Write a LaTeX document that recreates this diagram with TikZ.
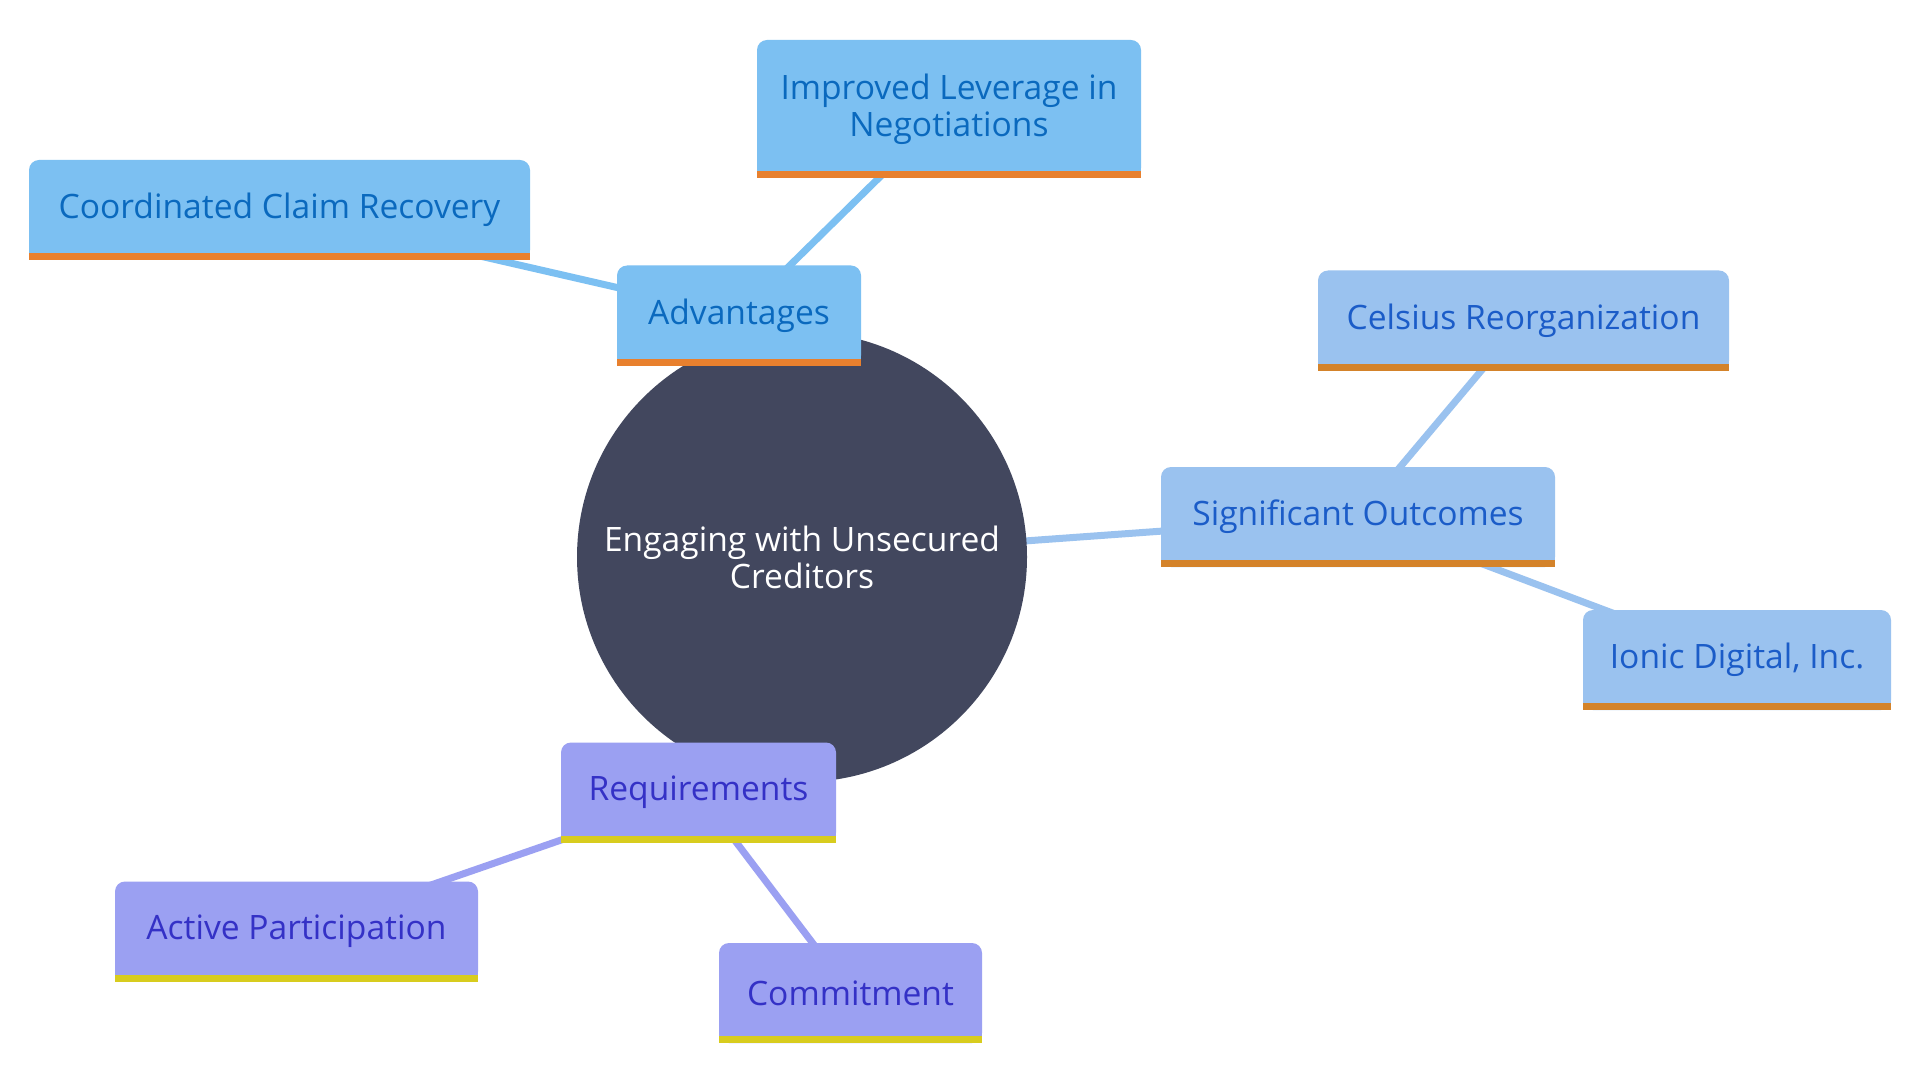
\documentclass[tikz,border=0pt]{standalone}
\usepackage{fontspec}
\setmainfont{Open Sans}
\usetikzlibrary{backgrounds}
\definecolor{hubfill}{HTML}{42475E}
\definecolor{advfill}{HTML}{7CC0F2}
\definecolor{advtext}{HTML}{0A69BE}
\definecolor{advstripe}{HTML}{E8802E}
\definecolor{sigfill}{HTML}{9AC2EF}
\definecolor{sigtext}{HTML}{1B5CC8}
\definecolor{sigstripe}{HTML}{D4832A}
\definecolor{reqfill}{HTML}{9BA0F2}
\definecolor{reqtext}{HTML}{3431C6}
\definecolor{reqstripe}{HTML}{D8CC1E}
\newcommand{\boxstripe}[3]{%
  \fill[#2] ([yshift=3.5pt]#1.south west) rectangle ([yshift=7pt]#1.south east);
  \fill[#3] (#1.south west) rectangle ([yshift=3.5pt]#1.south east);}
\begin{document}
\begin{tikzpicture}[x=0.5pt,y=-0.5pt,
  leaf/.style={rectangle, rounded corners=5pt, minimum height=50pt, align=center,
    inner sep=0pt, font=\fontsize{16.8}{18.5}\selectfont},
  adv/.style={leaf, fill=advfill, text=advtext},
  sig/.style={leaf, fill=sigfill, text=sigtext},
  req/.style={leaf, fill=reqfill, text=reqtext},
  advline/.style={draw=advfill, line width=3.5pt},
  sigline/.style={draw=sigfill, line width=3.5pt},
  reqline/.style={draw=reqfill, line width=3.5pt}]
\useasboundingbox (0,0) rectangle (1920,1080);
\begin{pgfonlayer}{background}
  \fill[white] (0,0) rectangle (1920,1080);
\end{pgfonlayer}

\node[circle, fill=hubfill, minimum size=225pt, inner sep=0pt, text=white, align=center,
  font=\fontsize{16.8}{18.5}\selectfont] (hub) at (802,557) {Engaging with Unsecured\\Creditors};

\node[adv, minimum width=192pt, minimum height=69pt] (impr) at (949,109) {Improved Leverage in\\Negotiations};
\boxstripe{impr}{advfill}{advstripe}
\node[adv, minimum width=250.5pt] (coord) at (279.5,210) {Coordinated Claim Recovery};
\boxstripe{coord}{advfill}{advstripe}
\node[adv, minimum width=122pt] (advn) at (739,315.5) {Advantages};
\boxstripe{advn}{advfill}{advstripe}

\node[sig, minimum width=205.5pt] (cels) at (1523.5,320.5) {Celsius Reorganization};
\boxstripe{cels}{sigfill}{sigstripe}
\node[sig, minimum width=197pt] (signif) at (1358,517) {Significant Outcomes};
\boxstripe{signif}{sigfill}{sigstripe}
\node[sig, minimum width=154pt] (ionic) at (1737,660) {Ionic Digital, Inc.};
\boxstripe{ionic}{sigfill}{sigstripe}

\node[req, minimum width=137.5pt] (reqs) at (698.5,792.5) {Requirements};
\boxstripe{reqs}{reqfill}{reqstripe}
\node[req, minimum width=181.5pt] (active) at (296.5,931.5) {Active Participation};
\boxstripe{active}{reqfill}{reqstripe}
\node[req, minimum width=131.5pt] (commit) at (850.5,993) {Commitment};
\boxstripe{commit}{reqfill}{reqstripe}

\begin{pgfonlayer}{background}
  \draw[advline] (hub.center) -- (advn.center);
  \draw[advline] (advn.center) -- (coord.center);
  \draw[advline] (advn.center) -- (impr.center);
  \draw[sigline] (hub.center) -- (signif.center);
  \draw[sigline] (signif.center) -- (cels.center);
  \draw[sigline] (signif.center) -- (ionic.center);
  \draw[reqline] (hub.center) -- (reqs.center);
  \draw[reqline] (reqs.center) -- (active.center);
  \draw[reqline] (reqs.center) -- (commit.center);
\end{pgfonlayer}
\end{tikzpicture}
\end{document}
